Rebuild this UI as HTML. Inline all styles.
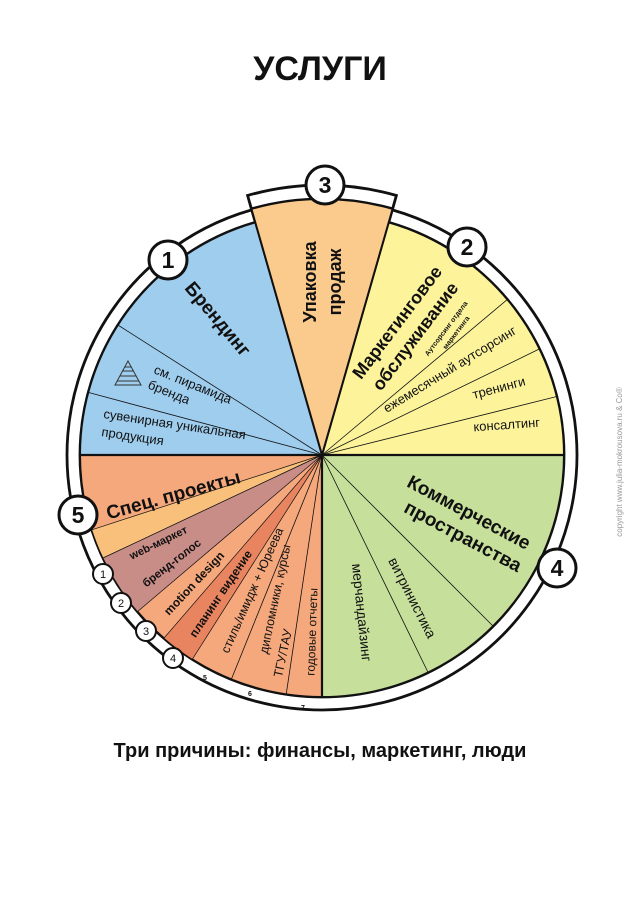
<!DOCTYPE html>
<html><head><meta charset="utf-8"><style>
html,body{margin:0;padding:0;background:#fff}
svg{display:block}
text{font-family:"Liberation Sans","DejaVu Sans",sans-serif;fill:#111}
.b{font-weight:bold}
</style></head><body>
<svg width="640" height="914" viewBox="0 0 640 914" xmlns="http://www.w3.org/2000/svg">
<text x="320" y="80" text-anchor="middle" class="b" font-size="34">УСЛУГИ</text>

<!-- ring -->
<path d="M388.7,222.4 A242,242 0 1 1 255.3,222.4 L251.7,209.9 A255,255 0 1 0 392.3,209.9 Z" fill="#fff" stroke="#111" stroke-width="2.8"/>
<!-- orange ring segment -->
<path d="M251.4,208.9 L247.6,195.5 A270,270 0 0 1 396.4,195.5 L392.6,208.9 A256,256 0 0 0 251.4,208.9 Z" fill="#fff" stroke="#111" stroke-width="2.8"/>

<!-- sectors -->
<path d="M322,455 L80,455 A242,242 0 0 1 255.3,222.4 Z" fill="#9fcdee" stroke="#111" stroke-width="2"/>
<path d="M322,455 L388.7,222.4 A242,242 0 0 1 564,455 Z" fill="#fcf39b" stroke="#111" stroke-width="2"/>
<path d="M322,455 L564,455 A242,242 0 0 1 322,697 Z" fill="#c6df9b" stroke="#111" stroke-width="2"/>
<path d="M322,455 L322,697 A242,242 0 0 1 80,455 Z" fill="#f5a87c" stroke="#111" stroke-width="2"/>
<path d="M322,455 L103,558 A242,242 0 0 1 91.8,529.8 Z" fill="#f8c07b" stroke="#111" stroke-width="0.7"/>
<path d="M322,455 L137.5,611.6 A242,242 0 0 1 103,558 Z" fill="#c98d88" stroke="#111" stroke-width="0.7"/>
<path d="M322,455 L192.3,659.3 A242,242 0 0 1 163.9,638.2 Z" fill="#e8845f" stroke="#111" stroke-width="0.7"/>
<path d="M322,455 L251.4,208.9 A256,256 0 0 1 392.6,208.9 Z" fill="#fbca8d" stroke="#111" stroke-width="2"/>

<!-- thin lines -->
<g stroke="#111" stroke-width="0.8">
<line x1="322" y1="455" x2="507.4" y2="299.4"/>
<line x1="322" y1="455" x2="539.5" y2="348.9"/>
<line x1="322" y1="455" x2="556.8" y2="396.5"/>
<line x1="322" y1="455" x2="493.1" y2="626.1"/>
<line x1="322" y1="455" x2="428.1" y2="672.5"/>
<line x1="322" y1="455" x2="286.2" y2="694.3"/>
<line x1="322" y1="455" x2="231.3" y2="679.4"/>
<line x1="322" y1="455" x2="88.2" y2="392.4"/>
<line x1="322" y1="455" x2="117.9" y2="325"/>
</g>
<g stroke="#111" stroke-width="2.2">
<line x1="80" y1="455" x2="564" y2="455"/>
<line x1="322" y1="455" x2="322" y2="697"/>
</g>

<!-- pyramid icon -->
<g stroke="#333" stroke-width="1" fill="none">
<polygon points="128,361 115,385 141,385"/>
<line x1="125" y1="367" x2="131" y2="367"/>
<line x1="122" y1="371" x2="134" y2="371"/>
<line x1="120" y1="376" x2="136" y2="376"/>
<line x1="117" y1="381" x2="139" y2="381"/>
</g>

<!-- labels -->
<text class="b" font-size="19" text-anchor="middle" transform="translate(213,323) rotate(50)">Брендинг</text>
<text font-size="13" transform="translate(153,373) rotate(22)">см. пирамида</text>
<text font-size="13" transform="translate(147,388) rotate(22)">бренда</text>
<text font-size="13" transform="translate(103,418) rotate(8.5)">сувенирная уникальная</text>
<text font-size="13" transform="translate(101,436) rotate(8.5)">продукция</text>

<text class="b" font-size="18" text-anchor="middle" transform="translate(316,282) rotate(-90)">Упаковка</text>
<text class="b" font-size="18" text-anchor="middle" transform="translate(341,282) rotate(-90)">продаж</text>

<text class="b" font-size="18" text-anchor="middle" transform="translate(402,326) rotate(-53)">Маркетинговое</text>
<text class="b" font-size="18" text-anchor="middle" transform="translate(420,340) rotate(-53)">обслуживание</text>
<text class="b" font-size="7" text-anchor="middle" transform="translate(448,330) rotate(-53)">Аутсорсинг отдела</text>
<text class="b" font-size="7" text-anchor="middle" transform="translate(458,334) rotate(-53)">маркетинга</text>
<text font-size="13" text-anchor="middle" transform="translate(452,373) rotate(-31.5)">ежемесячный аутсорсинг</text>
<text font-size="13" text-anchor="middle" transform="translate(500,392) rotate(-15)">тренинги</text>
<text font-size="13" text-anchor="middle" transform="translate(507,429) rotate(-4)">консалтинг</text>

<text class="b" font-size="19" text-anchor="middle" transform="translate(466,518) rotate(28)">Коммерческие</text>
<text class="b" font-size="19" text-anchor="middle" transform="translate(460,542) rotate(28)">пространства</text>
<text font-size="14" text-anchor="middle" transform="translate(408,600) rotate(63)">витринистика</text>
<text font-size="14" text-anchor="middle" transform="translate(357,613) rotate(84)">мерчандайзинг</text>

<text class="b" font-size="19" text-anchor="middle" transform="translate(175,501) rotate(-15.5)">Спец. проекты</text>
<text class="b" font-size="11" text-anchor="middle" transform="translate(160,546) rotate(-26)">web-маркет</text>
<text class="b" font-size="11.5" text-anchor="middle" transform="translate(174,566) rotate(-38)">бренд-голос</text>
<text class="b" font-size="12" text-anchor="middle" transform="translate(197,586) rotate(-47)">motion design</text>
<text class="b" font-size="12" text-anchor="middle" transform="translate(224,596) rotate(-56)">планинг видение</text>
<text font-size="12.5" text-anchor="middle" transform="translate(256,592) rotate(-66)">стиль/имидж + Юреева</text>
<text font-size="12.5" text-anchor="middle" transform="translate(279,600) rotate(-78)">дипломники, курсы</text>
<text font-size="12.5" text-anchor="middle" transform="translate(287,654) rotate(-78)">ТГУ/ТАУ</text>
<text font-size="12" text-anchor="middle" transform="translate(316,632) rotate(-88)">годовые отчеты</text>

<!-- number circles -->
<g fill="#fff" stroke="#111" stroke-width="3">
<circle cx="168" cy="260" r="19"/>
<circle cx="325" cy="185" r="19"/>
<circle cx="467" cy="247" r="19"/>
<circle cx="557" cy="568" r="19"/>
<circle cx="78" cy="515" r="19"/>
</g>
<g class="b" font-size="23" text-anchor="middle">
<text x="168" y="268" class="b">1</text>
<text x="325" y="193" class="b">3</text>
<text x="467" y="255" class="b">2</text>
<text x="557" y="576" class="b">4</text>
<text x="78" y="523" class="b">5</text>
</g>
<g fill="#fff" stroke="#111" stroke-width="2">
<circle cx="103" cy="574" r="10"/>
<circle cx="121" cy="603" r="10"/>
<circle cx="146" cy="631" r="10"/>
<circle cx="173" cy="658" r="10"/>
</g>
<g font-size="11" text-anchor="middle">
<text x="103" y="578">1</text>
<text x="121" y="607">2</text>
<text x="146" y="635">3</text>
<text x="173" y="662">4</text>
</g>
<g font-size="7" text-anchor="middle" class="b">
<text x="205" y="680">5</text>
<text x="250" y="696">6</text>
<text x="303" y="710">7</text>
</g>

<text x="320" y="757" text-anchor="middle" class="b" font-size="20">Три причины: финансы, маркетинг, люди</text>
<text font-size="8" style="fill:#999" text-anchor="middle" transform="translate(622,462) rotate(-90)">copyright www.julia-mokrousova.ru &amp; Co®</text>
</svg>
</body></html>
